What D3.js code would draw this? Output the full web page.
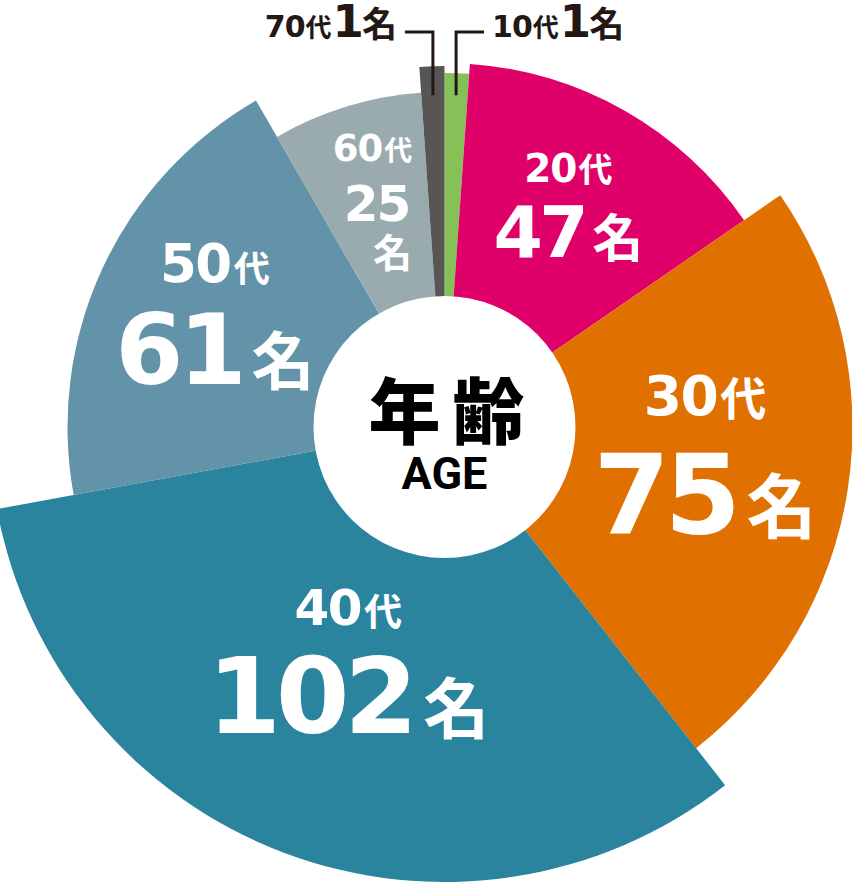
<!DOCTYPE html>
<html>
<head>
<meta charset="utf-8">
<script src="https://cdn.jsdelivr.net/npm/d3@7"></script>
<style>
  html, body { margin: 0; padding: 0; background: #ffffff; }
  svg { display: block; }
</style>
</head>
<body>
<svg id="chart" width="852" height="882"></svg>
<script>
// ---------------- data ----------------
const ageGroups = ["10代", "20代", "30代", "40代", "50代", "60代", "70代"];
const decadeNumbers = ["10", "20", "30", "40", "50", "60", "70"];
const counts = [1, 47, 75, 102, 61, 25, 1];
const unitDecade = "代";
const unitPeople = "名";
const centerTitle = "年齢";
const centerSubtitle = "AGE";

// ---------------- style / layout ----------------
const sliceColors = ["#86c157", "#e0006a", "#e07000", "#2a849e", "#6393a8", "#9aabb0", "#575655"];
const outerRadii = [354, 364, 408, 455, 377, 335, 361];
const width = 852, height = 882;
const cx = 444.5, cy = 427;
const holeRadius = 131;
const minAngle = 4 * Math.PI / 180;
const ink = "#231815";
const numFont = "'DejaVu Sans', sans-serif";
const jpFont = "'Noto Sans CJK JP', sans-serif";

// label layout inside slices (null = leader-line label); da = angle nudge in degrees
const labelLayout = [
  null,
  { r: 254, da: -0.5, n1: 39, k1: 34, n2: 71, k2: 51, b1: -23, b2: 52 },
  { r: 262, da: -2.7, n1: 55, k1: 46, n2: 110, k2: 70, b1: -39, b2: 79 },
  { r: 253, da: 1.6, n1: 50, k1: 38, n2: 106, k2: 66, b1: -36, b2: 72 },
  { r: 256, da: 1.4, n1: 53, k1: 36, n2: 98, k2: 63, b1: -32, b2: 70 },
  { r: 236, da: 0, n1: 37, k1: 28, n2: 50, k2: 39, b1: -40, b2: 20, b3: 66, stacked: true },
  null
];

const svg = d3.select("#chart");
const g = svg.append("g").attr("transform", `translate(${cx},${cy})`);

// pie
const pie = d3.pie().sort(null).value(d => d).startAngle(0).endAngle(2 * Math.PI);
const arcs = pie(counts);
// enforce minimum visible angle for tiny slices at the ends
arcs.forEach((a, i) => {
  if (a.endAngle - a.startAngle < minAngle) {
    if (i === 0) {
      a.endAngle = a.startAngle + minAngle;
      arcs[1].startAngle = a.endAngle;
    } else if (i === arcs.length - 1) {
      a.startAngle = a.endAngle - minAngle;
      arcs[i - 1].endAngle = a.startAngle;
    }
  }
});

const arcGen = d3.arc().innerRadius(0).outerRadius(d => outerRadii[d.index]);

g.selectAll("path.slice")
  .data(arcs)
  .join("path")
  .attr("class", "slice")
  .attr("d", d => arcGen(d))
  .attr("fill", d => sliceColors[d.index]);

// center hole
g.append("circle").attr("r", holeRadius).attr("fill", "#ffffff");

g.append("text")
  .attr("x", 2 + 6)
  .attr("y", -21)
  .attr("text-anchor", "middle")
  .attr("dominant-baseline", "central")
  .attr("font-family", jpFont)
  .attr("font-weight", 900)
  .attr("font-size", 72)
  .attr("letter-spacing", 12)
  .attr("fill", "#000")
  .text(centerTitle);

g.append("text")
  .attr("x", 0)
  .attr("y", 62)
  .attr("text-anchor", "middle")
  .attr("font-family", "Roboto, sans-serif")
  .attr("font-weight", 700)
  .attr("font-size", 45)
  .attr("fill", "#000")
  .text(centerSubtitle);

// in-slice labels
const midA = d => (d.startAngle + d.endAngle) / 2;
arcs.forEach((d, i) => {
  const L = labelLayout[i];
  if (!L) return;
  const a = midA(d) + L.da * Math.PI / 180;
  const lx = L.r * Math.sin(a), ly = -L.r * Math.cos(a);
  const lg = g.append("g").attr("transform", `translate(${lx},${ly})`).attr("fill", "#fff");
  // line 1: decade
  const t1 = lg.append("text").attr("text-anchor", "middle").attr("y", L.b1)
    .attr("x", L.stacked ? -3 : 0);
  t1.append("tspan").attr("font-family", numFont).attr("font-weight", 700)
    .attr("font-size", L.n1).attr("letter-spacing", -L.n1 * 0.03).text(decadeNumbers[i]);
  t1.append("tspan").attr("font-family", jpFont).attr("font-weight", 700)
    .attr("font-size", L.k1).attr("dx", L.n1 * 0.06).text(unitDecade);
  if (!L.stacked) {
    const t2 = lg.append("text").attr("text-anchor", "middle").attr("y", L.b2);
    t2.append("tspan").attr("font-family", numFont).attr("font-weight", 700)
      .attr("font-size", L.n2).attr("letter-spacing", -L.n2 * 0.05).text(String(counts[i]));
    t2.append("tspan").attr("font-family", jpFont).attr("font-weight", 700)
      .attr("font-size", L.k2).attr("dx", L.n2 * 0.1).text(unitPeople);
  } else {
    lg.append("text").attr("text-anchor", "middle").attr("y", L.b2).attr("x", 1)
      .attr("font-family", numFont).attr("font-weight", 700)
      .attr("font-size", L.n2).attr("letter-spacing", -L.n2 * 0.04).text(String(counts[i]));
    lg.append("text").attr("text-anchor", "middle").attr("y", L.b3).attr("x", 17)
      .attr("font-family", jpFont).attr("font-weight", 700)
      .attr("font-size", L.k2).text(unitPeople);
  }
});

// leader-line labels for tiny slices
const leaderBottomR = 332;
const leaderTopY = 32 - cy;
const leaderRun = 28;
arcs.forEach((d, i) => {
  if (labelLayout[i]) return;
  const a = midA(d);
  const x0 = leaderBottomR * Math.sin(a);
  const y0 = -leaderBottomR * Math.cos(a);
  const dir = Math.sin(a) >= 0 ? 1 : -1;
  const x1 = x0 + dir * leaderRun;
  g.append("path")
    .attr("d", d3.line()([[x0, y0], [x0, leaderTopY], [x1, leaderTopY]]))
    .attr("fill", "none").attr("stroke", ink).attr("stroke-width", 3);
  const t = g.append("text")
    .attr("x", x1 + dir * 8)
    .attr("y", leaderTopY + 5)
    .attr("text-anchor", dir > 0 ? "start" : "end")
    .attr("fill", ink);
  t.append("tspan").attr("font-family", numFont).attr("font-weight", 700)
    .attr("font-size", 30).attr("letter-spacing", -1).text(decadeNumbers[i]);
  t.append("tspan").attr("font-family", jpFont).attr("font-weight", 700)
    .attr("font-size", 26).attr("dx", 1).text(unitDecade);
  t.append("tspan").attr("font-family", numFont).attr("font-weight", 700)
    .attr("font-size", 45).attr("dx", 1).attr("letter-spacing", -2).text(String(counts[i]));
  t.append("tspan").attr("font-family", jpFont).attr("font-weight", 700)
    .attr("font-size", 35).attr("dx", 0).text(unitPeople);
});
</script>
</body>
</html>
